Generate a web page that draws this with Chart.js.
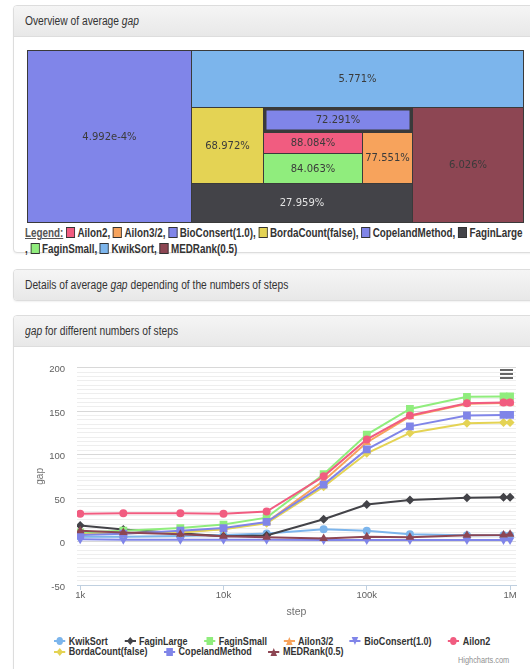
<!DOCTYPE html>
<html>
<head>
<meta charset="utf-8">
<script src="https://cdn.jsdelivr.net/npm/chart.js@4.4.1/dist/chart.umd.min.js"></script>
<style>
  html, body { margin: 0; padding: 0; background: #fff; width: 530px; height: 669px; overflow: hidden; position: relative; }
  .panel { position: absolute; left: 13px; width: 560px; border: 1px solid #ddd; border-radius: 4px; background: #fff; box-shadow: 0 1px 2px rgba(0,0,0,.06); box-sizing: border-box; }
  .panel-heading { height: 31px; box-sizing: border-box; padding: 0 11px; line-height: 30px; font-family: "Liberation Sans", Arial, sans-serif; font-size: 12.5px; color: #333; background: linear-gradient(#f5f5f5, #e8e8e8); border-bottom: 1px solid #ddd; border-radius: 3px 3px 0 0; white-space: nowrap; }
  .panel-heading.only { border-bottom: none; border-radius: 3px; height: 30px; }
  /* the reference renders everything in a condensed face */
  .nx { display: inline-block; transform: scaleX(0.82); transform-origin: 0 50%; white-space: nowrap; }
  #treemap { position: absolute; left: 26px; top: 49px; }
  #tm-legend { position: absolute; left: 25px; top: 225px; font: bold 12px "Liberation Sans", Arial, sans-serif; color: #333; line-height: 16px; white-space: nowrap; transform: scaleX(0.82); transform-origin: 0 0; }
  #tm-legend u { color: #555; }
  .sw { display: inline-block; width: 11px; height: 11px; border: 1px solid #333; vertical-align: -1px; margin-right: 3px; box-sizing: border-box; }
  #steps { position: absolute; left: 0; top: 350px; }
  #steps-legend { position: absolute; left: 54px; top: 636px; width: 580px; display: flex; flex-wrap: wrap; font: bold 11px "Liberation Sans", Arial, sans-serif; color: #333; line-height: 11px; transform: scaleX(0.82); transform-origin: 0 0; }
  #steps-legend span.item { display: inline-flex; align-items: center; margin-right: 20px; height: 10.6px; }
  #steps-legend svg { margin-right: 4px; }
  #credits { position: absolute; left: 458px; top: 655px; font: 9px "Liberation Sans", Arial, sans-serif; color: #909090; transform: scaleX(0.82); transform-origin: 0 0; }
  #menu { position: absolute; left: 500px; top: 369px; }
</style>
</head>
<body>
<div class="panel" style="top:5px;height:248px">
  <div class="panel-heading"><span class="nx">Overview of average <i>gap</i></span></div>
</div>
<div class="panel" style="top:269px;height:32px">
  <div class="panel-heading only"><span class="nx">Details of average <i>gap</i> depending of the numbers of steps</span></div>
</div>
<div class="panel" style="top:315px;height:400px">
  <div class="panel-heading"><span class="nx"><i>gap</i> for different numbers of steps</span></div>
</div>

<canvas id="treemap" width="498" height="174"></canvas>
<div id="tm-legend"></div>
<canvas id="steps" width="530" height="275"></canvas>
<div id="steps-legend"></div>
<div id="credits">Highcharts.com</div>
<svg id="menu" width="14" height="10"><rect x="0" y="0" width="13" height="2" fill="#666"/><rect x="0" y="4" width="13" height="2" fill="#666"/><rect x="0" y="8" width="13" height="2" fill="#666"/></svg>

<script>
// overview treemap: cells in increasing gap, weights are the cell areas (% of the box)
const cellNames   = ['BioConsert(1.0)', 'KwikSort', 'MEDRank(0.5)', 'FaginLarge', 'BordaCount(false)', 'CopelandMethod', 'Ailon3/2', 'FaginSmall', 'Ailon2'];
const cellLabels  = ['4.992e-4%', '5.771%', '6.026%', '27.959%', '68.972%', '72.291%', '77.551%', '84.063%', '88.084%'];
const cellWeights = [33.06, 22.18, 14.96, 10.10, 6.41, 4.37, 2.99, 3.48, 2.44];
const selectedCell = 'CopelandMethod';

// gap for different numbers of steps
const steps = [1000, 2000, 5000, 10000, 20000, 50000, 100000, 200000, 500000, 900000, 1000000];
const stepTicks = [1000, 10000, 100000, 1000000];
const stepTickLabels = ['1k', '10k', '100k', '1M'];
const seriesNames = ['KwikSort', 'FaginLarge', 'FaginSmall', 'Ailon3/2', 'BioConsert(1.0)', 'Ailon2', 'BordaCount(false)', 'CopelandMethod', 'MEDRank(0.5)'];
const kwikSort     = [5.5, 5.5, 6.5, 7.4, 9.3, 14, 12.3, 8.5, 7.2, 7.2, 7.2];
const faginLarge   = [18.5, 13.8, 9.5, 6, 7, 25.6, 42.6, 47.9, 50.5, 51, 51];
const faginSmall   = [10.4, 12.5, 15.5, 19.5, 27.5, 77.5, 123, 152.5, 166.5, 167, 167];
const ailon32      = [8.5, 9.5, 11, 14.5, 22, 70, 114, 144, 158.5, 159.5, 159.5];
const bioConsert   = [2.5, 2, 2, 2, 2, 1.8, 1.8, 1.8, 1.8, 1.8, 1.8];
const ailon2       = [32, 32.5, 32.5, 32, 34.5, 75, 117.5, 145, 159, 160, 160];
const bordaCount   = [8.5, 9.5, 10.5, 14, 21, 63, 101.5, 125, 136, 137, 137];
const copeland     = [7.4, 9, 12.5, 15.5, 22.5, 65.5, 106, 132.5, 145, 145.7, 145.7];
const medRank      = [12.5, 10.5, 8.5, 6.2, 4.8, 3.6, 5.5, 4.8, 7.2, 7.4, 8.5];
const seriesValues = [kwikSort, faginLarge, faginSmall, ailon32, bioConsert, ailon2, bordaCount, copeland, medRank];

const colors = {
  'KwikSort': '#7cb5ec', 'FaginLarge': '#434348', 'FaginSmall': '#90ed7d', 'Ailon3/2': '#f7a35c',
  'BioConsert(1.0)': '#8085e9', 'Ailon2': '#f15c80', 'BordaCount(false)': '#e4d354',
  'CopelandMethod': '#8085e8', 'MEDRank(0.5)': '#8d4653'
};
// highcharts marker cycle
const markers = ['circle', 'diamond', 'square', 'triangle', 'triangle-down'];

// cells are cut off the remaining box going left, top, right, bottom, ...
function spiralLayout(weights) {
  let x0 = 0, y0 = 0, x1 = 100, y1 = 100;
  let rest = weights.reduce((a, b) => a + b, 0);
  return weights.map((w, i) => {
    if (i === weights.length - 1) return [x0, y0, x1, y1];
    const f = w / rest;
    rest -= w;
    let r;
    switch (i % 4) {
      case 0: { const c = x0 + (x1 - x0) * f; r = [x0, y0, c, y1]; x0 = c; break; }
      case 1: { const c = y0 + (y1 - y0) * f; r = [x0, y0, x1, c]; y0 = c; break; }
      case 2: { const c = x1 - (x1 - x0) * f; r = [c, y0, x1, y1]; x1 = c; break; }
      default: { const c = y1 - (y1 - y0) * f; r = [x0, c, x1, y1]; y1 = c; }
    }
    return r;
  });
}

function isDark(hex) {
  const n = parseInt(hex.slice(1), 16);
  return (0.299 * (n >> 16) + 0.587 * ((n >> 8) & 255) + 0.114 * (n & 255)) / 255 < 0.3;
}

const treemapCells = {
  id: 'treemapCells',
  afterDraw(chart) {
    const { ctx, scales: { x, y } } = chart;
    spiralLayout(cellWeights).forEach((r, i) => {
      const left = Math.round(x.getPixelForValue(r[0]));
      const right = Math.round(x.getPixelForValue(r[2]));
      const top = Math.round(y.getPixelForValue(r[1]));
      const bottom = Math.round(y.getPixelForValue(r[3]));
      const color = colors[cellNames[i]];
      ctx.save();
      ctx.fillStyle = color;
      ctx.fillRect(left, top, right - left, bottom - top);
      ctx.strokeStyle = '#3a3a3a';
      ctx.lineWidth = 1;
      ctx.strokeRect(left + 0.5, top + 0.5, right - left, bottom - top);
      if (cellNames[i] === selectedCell) {
        ctx.lineWidth = 3;
        ctx.strokeRect(left + 2, top + 2, right - left - 3, bottom - top - 3);
      }
      ctx.font = '10px "DejaVu Sans", Verdana, sans-serif';
      ctx.textAlign = 'center';
      ctx.textBaseline = 'middle';
      ctx.fillStyle = isDark(color) ? '#e2e2e2' : '#3b3b3b';
      ctx.fillText(cellLabels[i], (left + right) / 2 + 0.5, (top + bottom) / 2 + 1);
      ctx.restore();
    });
  }
};

new Chart(document.getElementById('treemap'), {
  type: 'scatter',
  data: { datasets: [] },
  options: {
    responsive: false,
    animation: false,
    events: [],
    layout: { padding: { left: 1, top: 1, right: 1, bottom: 1 } },
    plugins: { legend: { display: false }, tooltip: { enabled: false } },
    scales: {
      x: { type: 'linear', min: 0, max: 100, display: false },
      y: { type: 'linear', min: 0, max: 100, reverse: true, display: false }
    }
  },
  plugins: [treemapCells]
});

// treemap legend (alphabetical)
const tmNames = [...cellNames].sort();
document.getElementById('tm-legend').innerHTML = '<u>Legend:</u> ' + tmNames.map((n, i) =>
  (i === 6 ? '<br>' : '') + (i > 0 ? ', ' : '') +
  `<span class="sw" style="background:${colors[n]}"></span>${n}`
).join('');

const pointStyles = {
  'circle':        { pointStyle: 'circle',   pointRadius: 4,   pointRotation: 0 },
  'diamond':       { pointStyle: 'rectRot',  pointRadius: 4.5, pointRotation: 0 },
  'square':        { pointStyle: 'rect',     pointRadius: 5.5, pointRotation: 0 },
  'triangle':      { pointStyle: 'triangle', pointRadius: 5,   pointRotation: 0 },
  'triangle-down': { pointStyle: 'triangle', pointRadius: 5,   pointRotation: 180 }
};

Chart.defaults.font.family = '"Liberation Sans", Arial, sans-serif';

new Chart(document.getElementById('steps'), {
  type: 'line',
  data: {
    datasets: seriesNames.map((name, i) => ({
      label: name,
      data: steps.map((s, j) => ({ x: s, y: seriesValues[i][j] })),
      borderColor: colors[name],
      backgroundColor: colors[name],
      borderWidth: 2,
      pointBorderWidth: 0,
      ...pointStyles[markers[i % markers.length]],
      order: -i,
      fill: false,
      tension: 0
    }))
  },
  options: {
    responsive: false,
    animation: false,
    events: [],
    layout: { padding: { left: 30, right: 14, top: 14, bottom: 3 } },
    plugins: { legend: { display: false }, tooltip: { enabled: false } },
    scales: {
      x: {
        type: 'logarithmic',
        min: 950,
        max: 1100000,
        afterBuildTicks: axis => { axis.ticks = stepTicks.map(v => ({ value: v })); },
        afterFit: axis => { axis.height = 37; },
        ticks: {
          autoSkip: false,
          maxRotation: 0,
          padding: 0,
          color: '#606060',
          font: { size: 9.5 },
          callback: (v, i) => stepTickLabels[i]
        },
        grid: { drawOnChartArea: false, drawTicks: true, tickLength: 5, color: '#C0D0E0' },
        border: { color: '#C0D0E0' },
        title: { display: true, text: 'step', color: '#707070', font: { size: 10.5 }, padding: { top: 4, bottom: 4 } }
      },
      y: {
        min: -50,
        max: 200,
        afterFit: axis => { axis.width = 47; },
        ticks: {
          stepSize: 5,
          maxTicksLimit: 100,
          autoSkip: false,
          padding: 12,
          labelOffset: 2,
          color: '#606060',
          font: { size: 9.5 },
          callback: v => (v % 50 === 0 ? v : '')
        },
        grid: {
          drawTicks: false,
          color: c => (c.tick && c.tick.value % 50 === 0 ? '#D8D8D8' : '#EEEEEE')
        },
        border: { display: false },
        title: { display: true, text: 'gap', color: '#707070', font: { size: 10 }, padding: { top: 4, bottom: 4 } }
      }
    }
  }
});

// highcharts-style legend: line with marker, then name
function markerSvg(kind, color) {
  let shape;
  if (kind === 'circle') shape = `<circle cx="7" cy="5" r="4" fill="${color}"/>`;
  else if (kind === 'diamond') shape = `<polygon points="7,1 11,5 7,9 3,5" fill="${color}"/>`;
  else if (kind === 'square') shape = `<rect x="3" y="1" width="8" height="8" fill="${color}"/>`;
  else if (kind === 'triangle') shape = `<polygon points="7,1 11,9 3,9" fill="${color}"/>`;
  else shape = `<polygon points="3,1 11,1 7,9" fill="${color}"/>`;
  return `<svg width="14" height="10"><line x1="0" y1="5" x2="14" y2="5" stroke="${color}" stroke-width="2"/>${shape}</svg>`;
}
document.getElementById('steps-legend').innerHTML = seriesNames.map((n, i) =>
  `<span class="item">${markerSvg(markers[i % markers.length], colors[n])}${n}</span>`
).join('');
</script>
</body>
</html>
